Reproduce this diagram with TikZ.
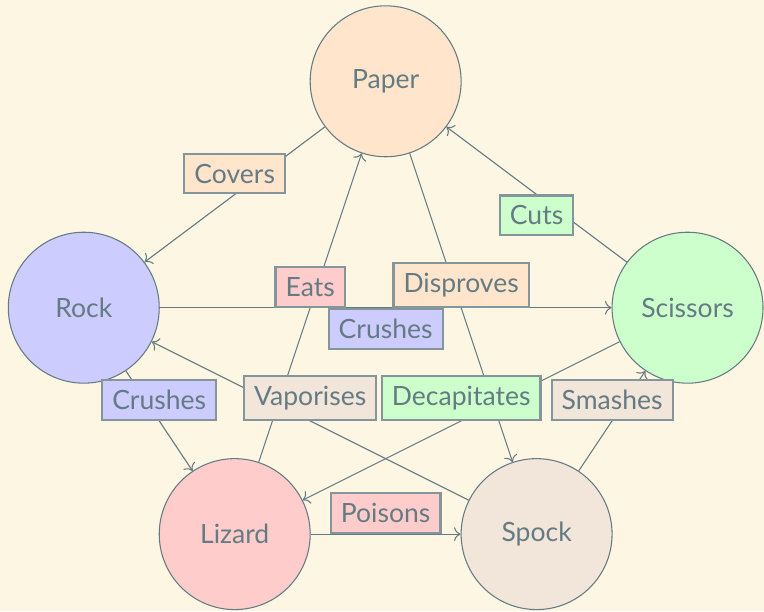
\documentclass[tikz,border=0pt]{standalone}
\usepackage{fontspec}
\setmainfont{Lato}
\usetikzlibrary{arrows.meta}
\definecolor{bgcol}{HTML}{FDF6E3}
\definecolor{ink}{HTML}{657B83}

\begin{document}
\begin{tikzpicture}[->,color=ink]
		\tikzstyle{hand}=[circle,minimum size=2cm,inner sep=0pt,draw=ink]
		\tikzstyle{verb}=[rectangle,draw=ink!80,line width=0.8pt,inner sep=3.8pt,midway]
		\useasboundingbox (-5.11,-7.02) rectangle (5.013,1.077);
		\fill[-,bgcol] (-5.11,-7.02) rectangle (5.013,1.077);
		\foreach \n/\x/\y/\c/\t in {paper/0/0/orange/Paper,rock/-4/-3/blue/Rock,scissors/4/-3/green/Scissors,lizard/-2/-6/red/Lizard,spock/2/-6/brown/Spock}{
			\node[hand,fill=\c!20] (\n) at (\x,\y) {\t};
		};
		% who beats whom
		\foreach \a/\b in {paper/rock,scissors/paper,rock/scissors,rock/lizard,lizard/paper,paper/spock,spock/rock,scissors/lizard,spock/scissors,lizard/spock}{
			\draw (\a) -- (\b);
		};
		\foreach \a/\b/\c/\t/\w [count=\i] in {paper/rock/orange/Covers/above,scissors/paper/green/Cuts/below,rock/scissors/blue/Crushes/below,rock/lizard/blue/Crushes/above,lizard/paper/red/Eats/above,paper/spock/orange/Disproves/above,spock/rock/brown/Vaporises/above,scissors/lizard/green/Decapitates/above,spock/scissors/brown/Smashes/above,lizard/spock/red/Poisons/above}{
			\path (\a) -- node[verb,fill=\c!20,\w] (v\i) {\t} (\b);
		};
	\end{tikzpicture}
\end{document}
